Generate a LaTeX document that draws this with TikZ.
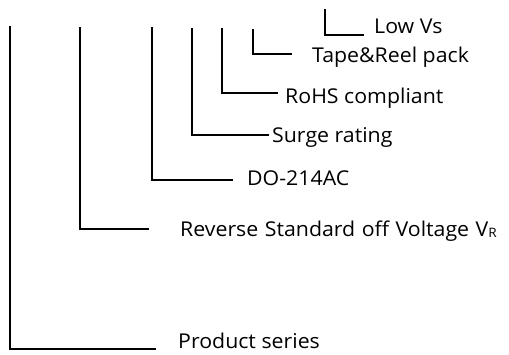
\documentclass[tikz,border=0pt]{standalone}
\usepackage{fontspec}
\setmainfont{Open Sans}[FakeStretch=1.045]
\begin{document}
\begin{tikzpicture}[x=1pt,y=-1pt,
  lbl/.style={anchor=base west,inner sep=0pt,font=\fontsize{20.4}{22}\selectfont},
  bracket/.style={line width=1.5pt,line cap=rect}]
\useasboundingbox (0,0) rectangle (509,354);
% labels
\node[lbl] (lowvs)   at (374,33)  {Low Vs};
\node[lbl] (tape)    at (312,62)  {Tape\&Reel pack};
\node[lbl] (rohs)    at (285,103) {RoHS compliant};
\node[lbl] (surge)   at (272,142) {Surge rating};
\node[lbl] (pkg)     at (247,185) {DO-214AC};
\node[lbl] (rev)     at (180,236) {\spaceskip=6.5pt Reverse Standard off Voltage V\raisebox{-1.5pt}{\fontsize{13}{13}\selectfont R}};
\node[lbl] (prod)    at (178,348) {Product series};
% bracket tops and ends
\coordinate (t1) at (10,27);   \coordinate (e1) at (155,349);
\coordinate (t2) at (80,28);   \coordinate (e2) at (148,229);
\coordinate (t3) at (152,28);  \coordinate (e3) at (232,180);
\coordinate (t4) at (192,29);  \coordinate (e4) at (268,135);
\coordinate (t5) at (222,29);  \coordinate (e5) at (277,93);
\coordinate (t6) at (253,30);  \coordinate (e6) at (291,54);
\coordinate (t7) at (325,10);  \coordinate (e7) at (363,35);
\foreach \i in {1,...,7} \draw[bracket] (t\i) |- (e\i);
\end{tikzpicture}
\end{document}
